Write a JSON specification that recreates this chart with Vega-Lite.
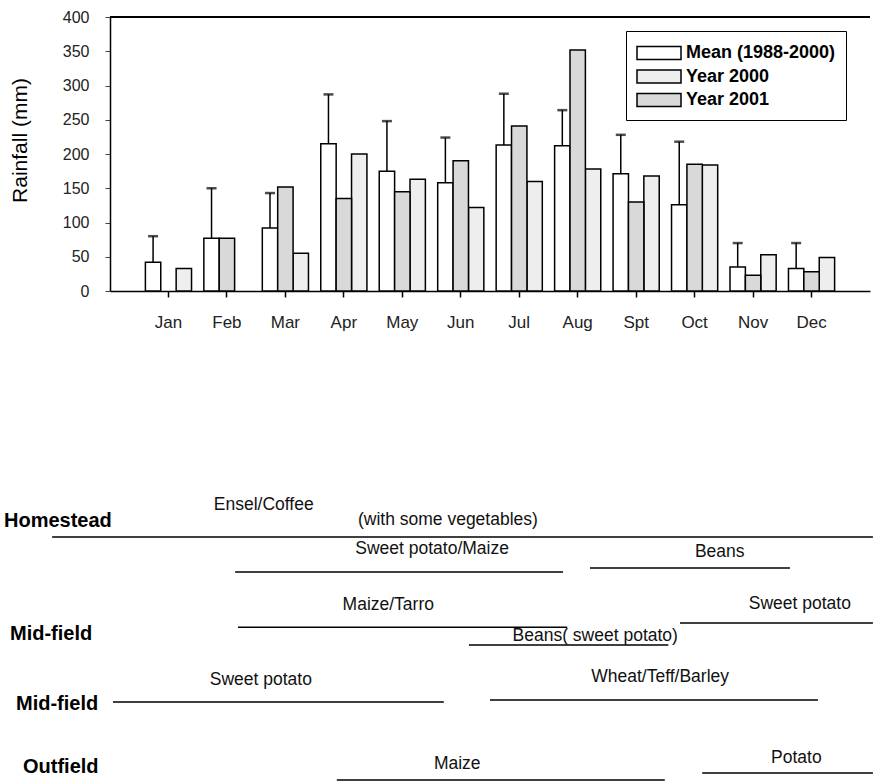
{
  "$schema": "https://vega.github.io/schema/vega-lite/v6.json",
  "padding": {"left": 4, "top": 9, "right": 0, "bottom": 0},
  "background": "white",
  "bounds": "flush",
  "spacing": 201,
  "config": {"font": "Liberation Sans", "view": {"stroke": null}},
  "vconcat": [
    {
      "width": 760,
      "height": 274,
      "data": {"values": [
        {"month": "Jan", "series": "Mean (1988-2000)", "value": 42, "upper": 80},
        {"month": "Jan", "series": "Year 2000", "value": 33},
        {"month": "Feb", "series": "Mean (1988-2000)", "value": 77, "upper": 150},
        {"month": "Feb", "series": "Year 2001", "value": 77},
        {"month": "Mar", "series": "Mean (1988-2000)", "value": 92, "upper": 143},
        {"month": "Mar", "series": "Year 2000", "value": 55},
        {"month": "Mar", "series": "Year 2001", "value": 152},
        {"month": "Apr", "series": "Mean (1988-2000)", "value": 215, "upper": 287},
        {"month": "Apr", "series": "Year 2000", "value": 200},
        {"month": "Apr", "series": "Year 2001", "value": 135},
        {"month": "May", "series": "Mean (1988-2000)", "value": 175, "upper": 248},
        {"month": "May", "series": "Year 2000", "value": 163},
        {"month": "May", "series": "Year 2001", "value": 145},
        {"month": "Jun", "series": "Mean (1988-2000)", "value": 158, "upper": 224},
        {"month": "Jun", "series": "Year 2000", "value": 122},
        {"month": "Jun", "series": "Year 2001", "value": 190},
        {"month": "Jul", "series": "Mean (1988-2000)", "value": 213, "upper": 288},
        {"month": "Jul", "series": "Year 2000", "value": 160},
        {"month": "Jul", "series": "Year 2001", "value": 241},
        {"month": "Aug", "series": "Mean (1988-2000)", "value": 212, "upper": 264},
        {"month": "Aug", "series": "Year 2000", "value": 178},
        {"month": "Aug", "series": "Year 2001", "value": 352},
        {"month": "Spt", "series": "Mean (1988-2000)", "value": 171, "upper": 228},
        {"month": "Spt", "series": "Year 2000", "value": 168},
        {"month": "Spt", "series": "Year 2001", "value": 130},
        {"month": "Oct", "series": "Mean (1988-2000)", "value": 126, "upper": 218},
        {"month": "Oct", "series": "Year 2000", "value": 184},
        {"month": "Oct", "series": "Year 2001", "value": 185},
        {"month": "Nov", "series": "Mean (1988-2000)", "value": 35, "upper": 70},
        {"month": "Nov", "series": "Year 2000", "value": 53},
        {"month": "Nov", "series": "Year 2001", "value": 23},
        {"month": "Dec", "series": "Mean (1988-2000)", "value": 33, "upper": 70},
        {"month": "Dec", "series": "Year 2000", "value": 49},
        {"month": "Dec", "series": "Year 2001", "value": 28}
      ]},
      "encoding": {
        "y": {"type": "quantitative",
              "scale": {"domain": [0, 400], "nice": false},
              "axis": {"title": "Rainfall (mm)", "titleFontSize": 21, "titleFontWeight": "normal", "titleColor": "black",
                       "titlePadding": 32, "titleY": 123, "values": [0,50,100,150,200,250,300,350,400],
                       "labelOverlap": false,
                       "labelFontSize": 16, "labelColor": "#222", "tickSize": 5, "labelPadding": 16, "grid": false,
                       "domainColor": "black", "domainWidth": 1.5, "tickColor": "#444"}}
      },
      "layer": [
        {
          "mark": {"type": "bar", "stroke": "black", "strokeWidth": 1.5},
          "encoding": {
            "x": {"field": "month", "type": "nominal",
                  "sort": ["Jan","Feb","Mar","Apr","May","Jun","Jul","Aug","Spt","Oct","Nov","Dec"],
                  "scale": {"paddingInner": 0, "paddingOuter": 0.5},
                  "axis": {"title": null, "labelAngle": 0, "labelFontSize": 17, "labelColor": "#222", "labelPadding": 17,
                           "tickSize": 6, "tickColor": "black", "tickWidth": 1.5, "domainColor": "black", "domainWidth": 1.5}},
            "xOffset": {"field": "series", "type": "nominal",
                        "scale": {"domain": ["Mean (1988-2000)", "Year 2001", "Year 2000"], "paddingInner": 0, "paddingOuter": 0.4}},
            "y": {"field": "value"},
            "fill": {"field": "series", "type": "nominal",
                     "scale": {"domain": ["Mean (1988-2000)", "Year 2000", "Year 2001"], "range": ["white", "#eeeeee", "#d9d9d9"]},
                     "legend": {"orient": "none", "legendX": 516, "legendY": 14, "title": null,
                                "symbolType": "M-1,-0.6H3V0.6H-1Z", "symbolSize": 484, "symbolStrokeColor": "black",
                                "symbolStrokeWidth": 1.5, "labelFontSize": 18, "labelFontWeight": "bold", "labelColor": "black",
                                "labelOffset": 26, "strokeColor": "black", "padding": 10,
                                "rowPadding": 1.5, "fillColor": "white"}}
          }
        },
        {
          "transform": [{"filter": "datum.series === 'Mean (1988-2000)'"}],
          "mark": {"type": "rule", "strokeWidth": 1.5, "color": "black"},
          "encoding": {
            "x": {"field": "month", "type": "nominal", "sort": ["Jan","Feb","Mar","Apr","May","Jun","Jul","Aug","Spt","Oct","Nov","Dec"]},
            "xOffset": {"field": "series", "type": "nominal"},
            "y": {"field": "value"}, "y2": {"field": "upper"}}
        },
        {
          "transform": [{"filter": "datum.series === 'Mean (1988-2000)'"}],
          "mark": {"type": "tick", "orient": "horizontal", "thickness": 2.5, "size": 10, "color": "black"},
          "encoding": {
            "x": {"field": "month", "type": "nominal", "sort": ["Jan","Feb","Mar","Apr","May","Jun","Jul","Aug","Spt","Oct","Nov","Dec"]},
            "xOffset": {"field": "series", "type": "nominal"},
            "y": {"field": "upper"}}
        },
        {
          "mark": {"type": "rule", "strokeWidth": 1.5, "color": "black"},
          "encoding": {"y": {"datum": 400}}
        }
      ]
    },
    {
      "width": 760,
      "height": 290,
      "layer": [
        {
          "data": {"values": [
            {"crop": "Ensel/Coffee", "start": -0.99, "end": 13.05, "level": 15.5},
            {"crop": "Sweet potato/Maize", "start": 2.14, "end": 7.75, "level": 27.6},
            {"crop": "Beans", "start": 8.21, "end": 11.63, "level": 26.2},
            {"crop": "Maize/Tarro", "start": 2.19, "end": 7.82, "level": 46.6},
            {"crop": "Sweet potato", "start": 9.75, "end": 13.05, "level": 45.2},
            {"crop": "Beans( sweet potato)", "start": 6.14, "end": 9.55, "level": 52.8},
            {"crop": "Sweet potato", "start": 0.05, "end": 5.71, "level": 72.4},
            {"crop": "Wheat/Teff/Barley", "start": 6.5, "end": 12.11, "level": 71.7},
            {"crop": "Maize", "start": 3.88, "end": 9.49, "level": 99.3},
            {"crop": "Potato", "start": 10.13, "end": 13.05, "level": 96.9}
          ]},
          "mark": {"type": "rule", "strokeWidth": 1.5, "color": "black"},
          "encoding": {
            "x": {"field": "start", "type": "quantitative", "scale": {"domain": [0, 13], "nice": false, "zero": false}, "axis": null},
            "x2": {"field": "end"},
            "y": {"field": "level", "type": "quantitative", "scale": {"domain": [0, 100], "reverse": true, "nice": false, "zero": false}, "axis": null}
          }
        },
        {
          "data": {"values": [
            {"label": "Ensel/Coffee", "x": 2.63, "level": 4.5},
            {"label": "(with some vegetables)", "x": 5.78, "level": 9.7},
            {"label": "Sweet potato/Maize", "x": 5.51, "level": 19.7},
            {"label": "Beans", "x": 10.43, "level": 20.7},
            {"label": "Maize/Tarro", "x": 4.76, "level": 39.0},
            {"label": "Sweet potato", "x": 11.8, "level": 38.6},
            {"label": "Beans( sweet potato)", "x": 8.3, "level": 49.7},
            {"label": "Sweet potato", "x": 2.58, "level": 64.8},
            {"label": "Wheat/Teff/Barley", "x": 9.41, "level": 63.8},
            {"label": "Maize", "x": 5.94, "level": 93.8},
            {"label": "Potato", "x": 11.74, "level": 91.7}
          ]},
          "mark": {"type": "text", "fontSize": 17.5, "color": "#111"},
          "encoding": {
            "x": {"field": "x", "type": "quantitative"},
            "y": {"field": "level", "type": "quantitative"},
            "text": {"field": "label"}
          }
        },
        {
          "data": {"values": [
            {"zone": "Homestead", "x": -1.813, "level": 10.0},
            {"zone": "Mid-field", "x": -1.711, "level": 49.0},
            {"zone": "Mid-field", "x": -1.608, "level": 73.1},
            {"zone": "Outfield", "x": -1.488, "level": 94.8}
          ]},
          "mark": {"type": "text", "fontSize": 20, "fontWeight": "bold", "align": "left", "color": "black"},
          "encoding": {
            "x": {"field": "x", "type": "quantitative"},
            "y": {"field": "level", "type": "quantitative"},
            "text": {"field": "zone"}
          }
        }
      ]
    }
  ]
}
